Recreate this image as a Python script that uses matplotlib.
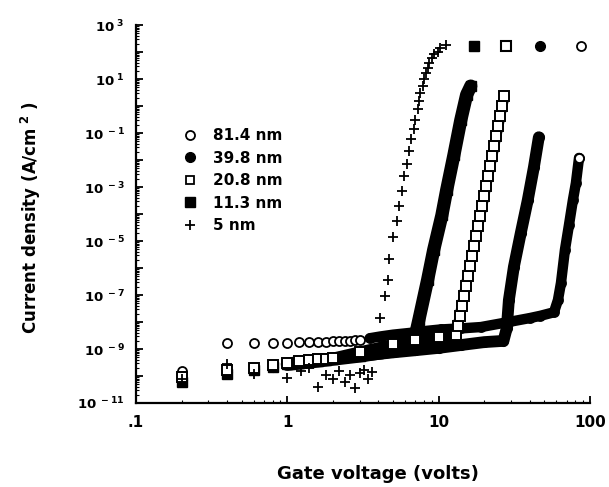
import math
import matplotlib
matplotlib.use('Agg')
import matplotlib.pyplot as plt
from matplotlib.lines import Line2D
from matplotlib.ticker import FixedLocator, LogLocator, FuncFormatter, NullFormatter

plt.rcParams['font.family'] = ['DejaVu Sans']
plt.rcParams['font.weight'] = 'bold'
plt.rcParams['mathtext.fontset'] = 'custom'
plt.rcParams['mathtext.rm'] = 'DejaVu Sans:bold'
plt.rcParams['mathtext.it'] = 'DejaVu Sans:bold'
plt.rcParams['mathtext.bf'] = 'DejaVu Sans:bold'

# 81.4 nm (open circles)
v_814 = [0.2, 0.4, 0.6, 0.8, 1.0, 1.2, 1.4, 1.6, 1.8, 2.0, 2.2, 2.4, 2.6, 2.8, 3.0,
         3.5, 4.1, 5.0, 6.6, 8.0, 10.3, 14, 19, 29, 40, 47, 57.8,
         61.4, 64.3, 68.3, 72.6, 77.1, 80.7, 84.6]
j_814 = [1.5e-10, 1.7e-9, 1.7e-9, 1.7e-9, 1.7e-9, 1.75e-9, 1.8e-9, 1.8e-9, 1.85e-9, 1.9e-9,
         1.9e-9, 2.0e-9, 2.0e-9, 2.1e-9, 2.1e-9,
         2.5e-9, 2.9e-9, 3.4e-9, 4.0e-9, 4.6e-9, 5.3e-9, 5.8e-9, 6.5e-9, 1.0e-8, 1.4e-8, 1.7e-8, 2.3e-8,
         6.5e-8, 2.8e-7, 4.7e-6, 3.9e-5, 3.3e-4, 1.4e-3, 1.2e-2]

# 39.8 nm (filled circles)
v_398 = [0.2, 0.4, 0.6, 0.8, 1.0, 1.2, 1.4, 1.6, 1.8, 2.0, 3.0, 5.0, 7.0, 10, 14, 20, 26.8,
         28.2, 29.1, 31.4, 34.9, 38.8, 42.6, 45.9]
j_398 = [7e-11, 1.4e-10, 1.8e-10, 2.2e-10, 2.8e-10, 3.1e-10, 3.4e-10, 3.7e-10, 4e-10, 4.3e-10,
         5.5e-10, 7.5e-10, 9e-10, 1.1e-9, 1.4e-9, 1.8e-9, 2e-9,
         6e-9, 6.5e-8, 1.1e-6, 2e-5, 3.3e-4, 5.5e-3, 7e-2]

# 20.8 nm (open squares)
v_208 = [0.2, 0.4, 0.6, 0.8, 1.0, 1.2, 1.4, 1.6, 1.8, 2.0, 3.0, 5.0, 7.0, 10, 13.0,
         13.4, 13.8, 14.2, 14.7, 15.1, 15.6, 16.1, 16.6, 17.1, 17.6, 18.2, 18.8, 19.4,
         20.0, 20.6, 21.2, 21.9, 22.6, 23.3, 24.0, 24.8, 25.5, 26.3, 27.2]
j_208 = [9e-11, 1.6e-10, 2e-10, 2.5e-10, 3.1e-10, 3.5e-10, 3.8e-10, 4.1e-10, 4.4e-10, 4.7e-10,
         8e-10, 1.5e-9, 2.1e-9, 2.7e-9, 3.2e-9,
         7.1e-9, 1.7e-8, 3.9e-8, 9.2e-8, 2.2e-7, 5.1e-7, 1.2e-6, 2.8e-6, 6.5e-6, 1.5e-5,
         3.6e-5, 8.4e-5, 2.0e-4, 4.6e-4, 1.1e-3, 2.6e-3, 6.0e-3, 1.4e-2, 3.3e-2, 7.7e-2,
         0.18, 0.43, 1.0, 2.3]

# 11.3 nm (filled squares)
v_113 = [0.2, 0.4, 0.6, 0.8, 1.0, 1.2, 1.4, 1.6, 1.8, 2.0, 3.0, 4.0, 5.0, 6.0, 6.6, 7.0, 7.4,
         8.45, 9.27, 10.5, 11.3, 12.6, 14.0, 15.3, 16.3]
j_113 = [6e-11, 1.2e-10, 1.6e-10, 2.1e-10, 2.7e-10, 3e-10, 3.3e-10, 3.6e-10, 3.9e-10, 4.2e-10,
         5.5e-10, 7e-10, 8.5e-10, 1e-9, 1.3e-9, 3e-9, 1.2e-8,
         3.6e-7, 4.7e-6, 9e-5, 7.8e-4, 1.5e-2, 0.30, 2.6, 5.5]

# 5 nm (plus)
v_5 = [0.2, 0.4, 0.6, 1.0, 1.24, 1.4, 1.6, 1.79, 1.99, 2.21, 2.42, 2.61, 2.78, 3.0, 3.19, 3.39, 3.6,
       4.07, 4.39, 4.6, 4.73, 4.96, 5.27, 5.43, 5.69, 5.86, 6.14, 6.33, 6.53, 6.83, 6.93,
       7.26, 7.4, 7.55, 7.83, 7.96, 8.2, 8.45, 8.59, 9.0, 9.27, 9.85, 10.2, 11.1]
j_5 = [8e-11, 2.8e-10, 1.2e-10, 8.5e-11, 1.5e-10, 1.9e-10, 3.9e-11, 1.1e-10, 7.7e-11, 1.5e-10,
       6e-11, 1.1e-10, 3.6e-11, 1.3e-10, 1.7e-10, 7.7e-11, 1.4e-10,
       1.4e-8, 9.2e-8, 3.6e-7, 2.2e-6, 1.4e-5, 5.5e-5, 2e-4, 7e-4, 2.6e-3, 7e-3, 2.2e-2, 6e-2, 0.14, 0.30,
       0.78, 1.5, 3.0, 5.5, 10, 17, 26, 39, 60, 84, 100, 140, 180]

# compliance points (one per thick film): 81.4, 39.8, 20.8, 11.3 nm
v_comp = [87, 47, 28, 17]
j_comp = [170, 170, 170, 170]

labels = ['81.4 nm', '39.8 nm', '20.8 nm', '11.3 nm', '5 nm']

fig = plt.figure(figsize=(6.09, 4.87), dpi=100)
ax = fig.add_axes([0.2233, 0.1725, 0.7455, 0.776])


def band(v, j, start, lw, z):
    # dense measurement points merge into a solid band
    pts = [(a, b) for a, b in zip(v, j) if a >= start]
    ax.plot([p[0] for p in pts], [p[1] for p in pts], color='black', lw=lw,
            solid_capstyle='round', solid_joinstyle='round', zorder=z)


# 81.4 nm
ax.plot(v_814, j_814, 'o', ms=6.5, mfc='white', mec='black', mew=1.3, zorder=2.1)
band(v_814, j_814, 3.4, 7.5, 2.2)
ax.plot([v_814[-1]], [j_814[-1]], 'o', ms=6.5, mfc='white', mec='black', mew=1.3, zorder=2.3)
ax.plot([v_comp[0]], [j_comp[0]], 'o', ms=6.5, mfc='white', mec='black', mew=1.3, zorder=2.3)

# 39.8 nm
band(v_398, j_398, 1.0, 8.5, 3)
ax.plot(v_398, j_398, 'o', ms=7, color='black', zorder=3.1)
ax.plot([v_comp[1]], [j_comp[1]], 'o', ms=7, color='black', zorder=3.1)

# 11.3 nm
band(v_113, j_113, 1.0, 9.5, 4)
ax.plot(v_113, j_113, 's', ms=6.5, color='black', zorder=4.1)
ax.plot([v_comp[3]], [j_comp[3]], 's', ms=6.5, color='black', zorder=4.1)

# 20.8 nm
band(v_208, j_208, 1.0, 7.5, 4.5)
ax.plot(v_208, j_208, 's', ms=6.5, mfc='white', mec='black', mew=1.4, zorder=5)
ax.plot([v_comp[2]], [j_comp[2]], 's', ms=6.5, mfc='white', mec='black', mew=1.5, zorder=5)

# 5 nm
ax.plot(v_5, j_5, '+', ms=7, mew=1.3, color='black', zorder=6)

ax.set_xscale('log')
ax.set_yscale('log')
ax.set_xlim(0.1, 100)
ax.set_ylim(1e-11, 1e3)

for s in ['top', 'right']:
    ax.spines[s].set_visible(False)
for s in ['left', 'bottom']:
    ax.spines[s].set_linewidth(1.6)

ax.xaxis.set_major_locator(FixedLocator([0.1, 1, 10, 100]))
ax.xaxis.set_major_formatter(FuncFormatter(
    lambda x, p: {0.1: '.1', 1: '1', 10: '10', 100: '100'}.get(round(x, 1), '')))
ax.xaxis.set_minor_locator(LogLocator(base=10, subs=range(2, 10), numticks=20))
ax.xaxis.set_minor_formatter(NullFormatter())

ax.yaxis.set_major_locator(FixedLocator([10.0 ** k for k in range(-11, 4)]))


def ylab(y, p):
    k = int(round(math.log10(y)))
    if k % 2 == 0:
        return ''
    return r'$10^{\ %d}$' % k


ax.yaxis.set_major_formatter(FuncFormatter(ylab))
ax.yaxis.set_minor_locator(LogLocator(base=10, subs=range(2, 10), numticks=30))
ax.yaxis.set_minor_formatter(NullFormatter())

ax.tick_params(which='major', direction='in', length=5, width=1.3, labelsize=9.5)
ax.tick_params(which='minor', direction='in', length=2.5, width=0.8)
ax.tick_params(axis='x', which='major', pad=9, labelsize=11)
ax.tick_params(axis='y', which='major', pad=8)

ax.set_xlabel('Gate voltage (volts)', fontsize=13, fontweight='bold')
ax.xaxis.set_label_coords(0.533, -0.165)
ax.set_ylabel(r'Current density (A/cm$^{\ 2}$ )', fontsize=12, fontweight='bold')
ax.yaxis.set_label_coords(-0.205, 0.49)

handles = [
    Line2D([], [], ls='none', marker='o', ms=6.5, mfc='white', mec='black', mew=1.3),
    Line2D([], [], ls='none', marker='o', ms=7, color='black'),
    Line2D([], [], ls='none', marker='s', ms=6, mfc='white', mec='black', mew=1.3),
    Line2D([], [], ls='none', marker='s', ms=6.5, color='black'),
    Line2D([], [], ls='none', marker='+', ms=7, mew=1.3, color='black'),
]
leg = ax.legend(handles, labels, loc='upper left', bbox_to_anchor=(0.102, 0.728),
                frameon=False, fontsize=11, handlelength=1.0, handletextpad=1.0,
                labelspacing=0.5, borderpad=0, borderaxespad=0)
for t in leg.get_texts():
    t.set_fontweight('bold')

fig.savefig('out.png', dpi=100, facecolor='white')
